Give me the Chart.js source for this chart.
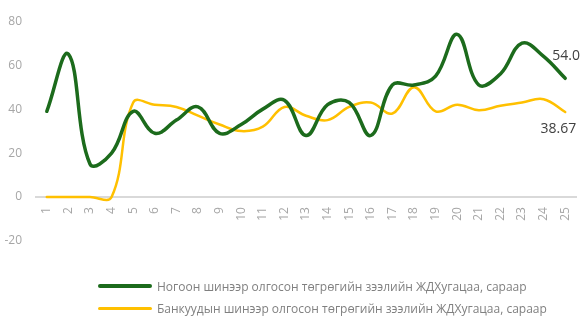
<!DOCTYPE html>
<html>
<head>
<meta charset="utf-8">
<script src="https://cdn.jsdelivr.net/npm/chart.js@4.4.1/dist/chart.umd.min.js"></script>
<style>
    html, body { margin: 0; padding: 0; background: #fff; }
    #wrap { position: relative; width: 584px; height: 322px; }
    #legend { position: absolute; left: 98px; top: 275px; font: 12px "Open Sans", sans-serif; color: #808080; }
    .item { display: flex; align-items: center; height: 22px; white-space: nowrap; }
    .swatch { width: 54px; border-radius: 2px; margin-right: 5px; }
</style>
</head>
<body>
<div id="wrap">
    <canvas id="loanChart" width="584" height="322"></canvas>
    <div id="legend"></div>
</div>
<script>
// months 1..25
const months = ['1', '2', '3', '4', '5', '6', '7', '8', '9', '10', '11', '12', '13',
    '14', '15', '16', '17', '18', '19', '20', '21', '22', '23', '24', '25'];

const greenLoans = [39, 65, 15, 20, 39, 29, 35, 41, 29, 33, 40, 44, 28,
    42, 43, 28, 51, 51, 55, 74, 51, 56, 70, 64, 54.0];
const bankLoans = [0, 0, 0, 0, 43, 42, 41, 37, 33, 30, 32, 41, 37,
    35, 41, 43, 38, 50, 39, 42, 39.5, 41.5, 43, 44.5, 38.67];

const seriesNames = [
    'Ногоон шинээр олгосон төгрөгийн зээлийн ЖДХугацаа, сараар',
    'Банкуудын шинээр олгосон төгрөгийн зээлийн ЖДХугацаа, сараар',
];
const endDecimals = [1, 2];

const yTicks = [-20, 0, 20, 40, 60, 80];

const colors = ['#1c6b1c', '#ffc000'];
const widths = [3.5, 2.5];

// value of the last point written next to each line
const endLabels = {
    id: 'endLabels',
    afterDatasetsDraw(chart) {
        const ctx = chart.ctx;
        const offsets = [{ dx: 1, dy: -22, align: 'center' }, { dx: 11, dy: 17, align: 'right' }];
        ctx.save();
        ctx.font = '14px "Open Sans", sans-serif';
        ctx.fillStyle = '#404040';
        ctx.textBaseline = 'middle';
        chart.data.datasets.forEach((ds, i) => {
            const meta = chart.getDatasetMeta(i);
            const last = meta.data[meta.data.length - 1];
            const value = ds.data[ds.data.length - 1];
            ctx.textAlign = offsets[i].align;
            ctx.fillText(value.toFixed(endDecimals[i]), last.x + offsets[i].dx, last.y + offsets[i].dy);
        });
        ctx.restore();
    }
};

const chart = new Chart(document.getElementById('loanChart'), {
    type: 'line',
    data: {
        labels: months,
        datasets: [greenLoans, bankLoans].map((values, i) => ({
            label: seriesNames[i],
            data: values,
            borderColor: colors[i],
            backgroundColor: colors[i],
            borderWidth: widths[i],
            pointRadius: 0,
            tension: 0.4,
            borderCapStyle: 'round',
        })),
    },
    options: {
        responsive: false,
        animation: false,
        layout: { padding: { top: 11, bottom: 81, right: 8, left: 0 } },
        plugins: {
            legend: { display: false },
            tooltip: { enabled: false },
        },
        scales: {
            x: {
                position: { y: 0 },
                offset: true,
                grid: { display: false },
                border: { color: '#d9d9d9', width: 2 },
                ticks: {
                    color: '#a6a6a6',
                    font: { family: 'Open Sans', size: 12 },
                    minRotation: 90,
                    maxRotation: 90,
                    autoSkip: false,
                    padding: 2,
                },
            },
            y: {
                min: -20,
                max: 80,
                afterBuildTicks: (axis) => { axis.ticks = yTicks.map((v) => ({ value: v })); },
                afterFit: (axis) => { axis.width = 36; },
                grid: { display: false, drawTicks: false },
                border: { display: false },
                ticks: {
                    color: '#a6a6a6',
                    font: { family: 'Open Sans', size: 12 },
                    padding: 14,
                },
            },
        },
    },
    plugins: [endLabels],
});

const legend = document.getElementById('legend');
seriesNames.forEach((name, i) => {
    const item = document.createElement('div');
    item.className = 'item';
    const sw = document.createElement('span');
    sw.className = 'swatch';
    sw.style.height = (i === 0 ? 4 : 3) + 'px';
    sw.style.background = colors[i];
    const txt = document.createElement('span');
    txt.textContent = name;
    item.appendChild(sw);
    item.appendChild(txt);
    legend.appendChild(item);
});
</script>
</body>
</html>
